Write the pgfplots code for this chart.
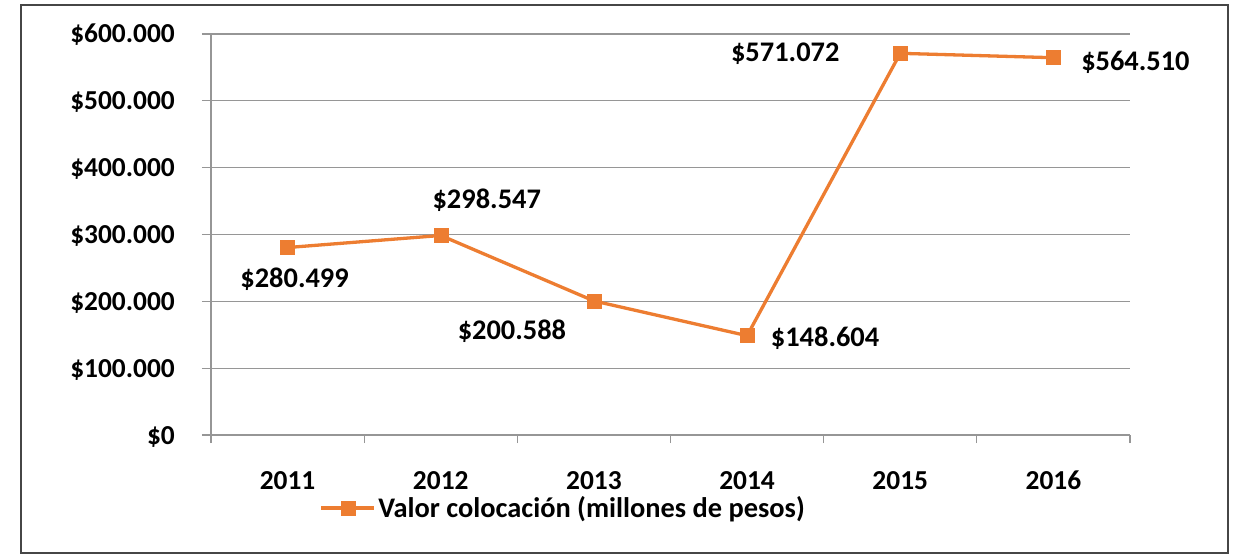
\documentclass[border=0pt]{standalone}
\usepackage{pgfplots}
\pgfplotsset{compat=1.18}
\usepackage{fontspec}
\setmainfont{Carlito}
\definecolor{exorange}{RGB}{237,125,49}
\definecolor{gridgray}{RGB}{150,150,150}
\definecolor{framegray}{RGB}{70,70,70}
\newcommand{\bigf}{\fontsize{27.5}{32}\selectfont\bfseries}
\newcommand{\labf}{\fontsize{28.5}{33}\selectfont\bfseries}
\begin{document}
\begin{tikzpicture}[font=\bigf]
\useasboundingbox (-211bp,-120bp) rectangle (1024bp,435bp);
\draw[framegray, line width=1.5bp] (-190bp,-118bp) rectangle (1017bp,430bp);
\begin{axis}[
  at={(0,0)}, anchor=south west,
  scale only axis, width=919bp, height=401bp,
  xmin=0.5, xmax=6.5, ymin=0, ymax=600000,
  axis x line=bottom, axis y line=left,
  axis line style={gridgray, line width=1.3bp, -},
  xtick={1,...,6}, xticklabels={2011,2012,2013,2014,2015,2016},
  minor xtick={0.5,1.5,...,6.5},
  major x tick style={draw=none},
  minor x tick style={gridgray, line width=1.3bp},
  minor tick length=8bp,
  ytick={0,100000,...,600000},
  yticklabels={\$0,\$100.000,\$200.000,\$300.000,\$400.000,\$500.000,\$600.000},
  major y tick style={gridgray, line width=1.3bp},
  major tick length=9bp,
  tick align=outside,
  ymajorgrids, grid style={gridgray, line width=1.3bp},
  every tick label/.append style={font=\bigf},
  xticklabel style={anchor=base, inner sep=0pt, yshift=-45bp},
  yticklabel style={anchor=base east, inner sep=0pt, xshift=-27bp, yshift=-9bp},
  scaled y ticks=false,
  clip=false,
  legend style={draw=none, fill=none, inner sep=0pt, at={(0.118,-0.182)}, anchor=west,
    font=\labf, nodes={inner sep=2.5bp}},
  legend image code/.code={\draw[mark repeat=2, mark phase=2, #1] plot coordinates {(0bp,0bp) (26.5bp,0bp) (53bp,0bp)};},
]
\addplot[exorange, line width=3.3bp, mark=square*, mark size=7bp, mark options={solid, line width=0.5bp}]
  coordinates {(1,280499) (2,298547) (3,200588) (4,148604) (5,571072) (6,564510)};
\addlegendentry{Valor colocación (millones de pesos)}
\node[font=\labf, anchor=base, inner sep=0pt, xshift=7bp, yshift=-40bp] at (axis cs:1,280499) {\$280.499};
\node[font=\labf, anchor=base, inner sep=0pt, xshift=46bp, yshift=26.5bp] at (axis cs:2,298547) {\$298.547};
\node[font=\labf, anchor=base, inner sep=0pt, xshift=-82bp, yshift=-39bp] at (axis cs:3,200588) {\$200.588};
\node[font=\labf, anchor=base, inner sep=0pt, xshift=78bp, yshift=-10.5bp] at (axis cs:4,148604) {\$148.604};
\node[font=\labf, anchor=base, inner sep=0pt, xshift=-115bp, yshift=-8bp] at (axis cs:5,571072) {\$571.072};
\node[font=\labf, anchor=base, inner sep=0pt, xshift=82bp, yshift=-12.5bp] at (axis cs:6,564510) {\$564.510};
\end{axis}
\end{tikzpicture}
\end{document}
